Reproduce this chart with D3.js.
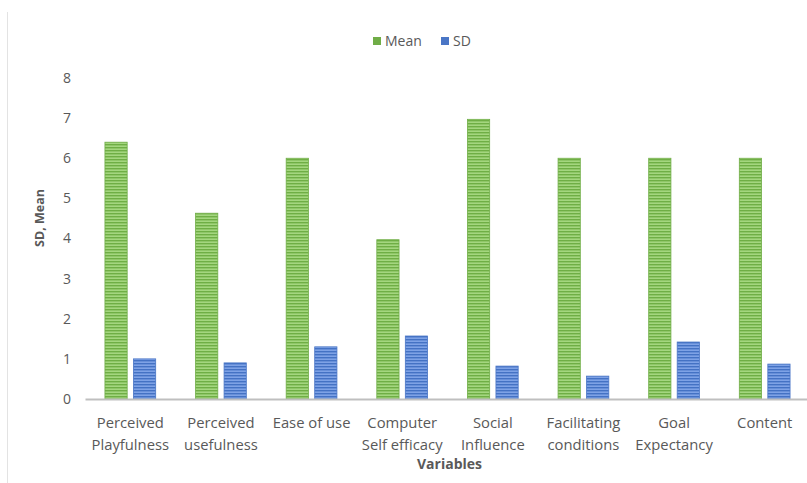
<!DOCTYPE html>
<html>
<head>
<meta charset="utf-8">
<script src="https://cdn.jsdelivr.net/npm/d3@7/dist/d3.min.js"></script>
<style>
  html, body { margin: 0; padding: 0; background: #fff; }
  svg { display: block; font-family: "Open Sans", Lato, sans-serif; }
</style>
</head>
<body>
<svg id="chart" width="807" height="483"></svg>
<script>
// Descriptive statistics for each survey variable
const categories = [
  ["Perceived", "Playfulness"],
  ["Perceived", "usefulness"],
  ["Ease of use"],
  ["Computer", "Self efficacy"],
  ["Social", "Influence"],
  ["Facilitating", "conditions"],
  ["Goal", "Expectancy"],
  ["Content"]
];
const meanValues = [6.4, 4.63, 6.0, 3.97, 6.97, 6.0, 6.0, 6.0];
const sdValues   = [1.0, 0.9, 1.3, 1.57, 0.82, 0.57, 1.42, 0.87];
const seriesNames = ["Mean", "SD"];
const yTicks = [0, 1, 2, 3, 4, 5, 6, 7, 8];

const svg = d3.select("#chart");
const textColor = "#595959";
const fontFamily = "'Open Sans', Lato, sans-serif";

const keys = categories.map(c => c.join(" "));
const rows = keys.map((k, i) => ({ key: k, lines: categories[i], Mean: meanValues[i], SD: sdValues[i] }));

const x0 = d3.scaleBand().domain(keys).range([85, 810]).padding(0);
const bw = x0.bandwidth();
const x1 = d3.scaleBand().domain(seriesNames).range([0.22 * bw, 0.78 * bw]).paddingInner(0.22);
const y = d3.scaleLinear().domain([0, 8]).range([399, 78]);

// striped fills
const defs = svg.append("defs");
const fills = {
  Mean: { base: "#a4d67f", line: "#6fae45", edge: "#70ad47" },
  SD:   { base: "#7ea2e6", line: "#4472c4", edge: "#4a76c6" }
};
seriesNames.forEach(name => {
  const p = defs.append("pattern")
    .attr("id", "stripe-" + name)
    .attr("patternUnits", "userSpaceOnUse")
    .attr("width", 8).attr("height", 3);
  p.append("rect").attr("width", 8).attr("height", 3).attr("fill", fills[name].base);
  p.append("rect").attr("y", 0).attr("width", 8).attr("height", 1.4).attr("fill", fills[name].line);
});

// left frame edge
svg.append("line")
  .attr("x1", 7.5).attr("x2", 7.5).attr("y1", 12).attr("y2", 483)
  .attr("stroke", "#e3e3e3").attr("stroke-width", 1);

// y axis labels
const yAxis = d3.axisLeft(y).tickValues(yTicks).tickSize(0).tickPadding(0);
const yg = svg.append("g").attr("transform", "translate(71,0)").call(yAxis);
yg.select(".domain").remove();
yg.selectAll("text")
  .attr("fill", textColor)
  .attr("font-size", 14)
  .attr("font-family", fontFamily);

// bars
const groups = svg.append("g").selectAll("g")
  .data(rows).join("g")
  .attr("transform", d => `translate(${x0(d.key)},0)`);

groups.selectAll("rect")
  .data(d => seriesNames.map(s => ({ s, v: d[s] })))
  .join("rect")
  .attr("x", d => x1(d.s))
  .attr("width", x1.bandwidth())
  .attr("y", d => y(d.v))
  .attr("height", d => y(0) - y(d.v))
  .attr("fill", d => `url(#stripe-${d.s})`)
  .attr("stroke", d => fills[d.s].edge)
  .attr("stroke-width", 0.8);

// baseline
const xAxis = d3.axisBottom(x0).tickSize(0).tickFormat("");
const xg = svg.append("g").attr("transform", `translate(0,${y(0)})`).call(xAxis);
xg.select(".domain").attr("stroke", "#bfbfbf").attr("stroke-width", 2);

// category labels
const labels = svg.append("g").selectAll("text")
  .data(rows).join("text")
  .attr("x", d => x0(d.key) + bw / 2)
  .attr("y", 428)
  .attr("text-anchor", "middle")
  .attr("fill", textColor)
  .attr("font-size", 14.8);
labels.selectAll("tspan")
  .data(d => d.lines).join("tspan")
  .attr("x", function () { return d3.select(this.parentNode).attr("x"); })
  .attr("dy", (d, i) => i === 0 ? 0 : 22)
  .text(d => d);

// axis titles
svg.append("text")
  .attr("x", (x0.range()[0] + x0.range()[1]) / 2 + 2)
  .attr("y", 469)
  .attr("text-anchor", "middle")
  .attr("font-size", 14).attr("font-weight", "bold")
  .attr("fill", textColor)
  .text("Variables");

svg.append("text")
  .attr("transform", "translate(44,218) rotate(-90)")
  .attr("text-anchor", "middle")
  .attr("font-size", 12.5).attr("font-weight", "bold")
  .attr("fill", textColor)
  .text("SD, Mean");

// legend
const legend = svg.append("g").attr("transform", "translate(373,41)");
const legendItems = [
  { name: "Mean", x: 0 },
  { name: "SD", x: 68 }
];
legendItems.forEach(it => {
  legend.append("rect")
    .attr("x", it.x).attr("y", -4)
    .attr("width", 8).attr("height", 8)
    .attr("fill", fills[it.name].edge);
  legend.append("text")
    .attr("x", it.x + 12).attr("y", 5)
    .attr("font-size", 14)
    .attr("fill", textColor)
    .text(it.name);
});
</script>
</body>
</html>
